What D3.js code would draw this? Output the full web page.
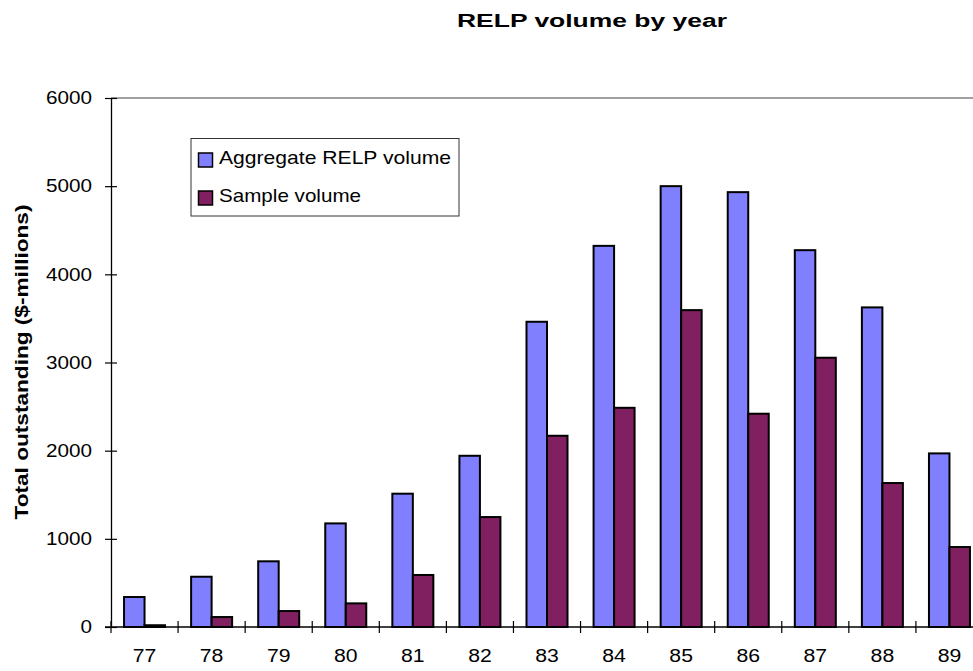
<!DOCTYPE html>
<html>
<head>
<meta charset="utf-8">
<script src="https://cdn.jsdelivr.net/npm/d3@7"></script>
<style>
  html, body { margin: 0; padding: 0; background: #fff; }
  svg { display: block; font-family: Arial, "Liberation Sans", sans-serif; }
</style>
</head>
<body>
<svg id="chart" width="973" height="671"></svg>
<script>
const categories = ["77","78","79","80","81","82","83","84","85","86","87","88","89"];
const seriesNames = ["Aggregate RELP volume", "Sample volume"];
const aggregateVolume = [340, 570, 745, 1175, 1512, 1942, 3462, 4323, 5000, 4932, 4274, 3625, 1969];
const sampleVolume = [20, 113, 181, 268, 590, 1247, 2169, 2486, 3594, 2419, 3054, 1633, 907];
const yTicks = [0, 1000, 2000, 3000, 4000, 5000, 6000];
const seriesColors = ["#8080FF", "#802060"];

(function () {
const svg = d3.select("#chart");
const pLeft = 111, pRight = 983, pTop = 98, pBottom = 627;

const x0 = d3.scaleBand().domain(categories).range([pLeft, pRight]).padding(0);
const x1 = d3.scaleBand().domain(seriesNames).range([0, x0.bandwidth()])
  .paddingInner(0).paddingOuter(0.636);
const y = d3.scaleLinear().domain([0, 6000]).range([pBottom, pTop]);

// Title
svg.append("text")
  .attr("x", 457).attr("y", 27)
  .attr("font-size", 18).attr("font-weight", "bold")
  .attr("textLength", 270).attr("lengthAdjust", "spacingAndGlyphs")
  .attr("fill", "#000")
  .text("RELP volume by year");

// Top border of plot area
svg.append("line")
  .attr("x1", pLeft).attr("x2", pRight).attr("y1", pTop).attr("y2", pTop)
  .attr("stroke", "#808080").attr("stroke-width", 1.5);

// Bars
const data = categories.map((c, i) => ({ cat: c, values: [aggregateVolume[i], sampleVolume[i]] }));
const groups = svg.append("g").selectAll("g").data(data).join("g")
  .attr("transform", d => `translate(${x0(d.cat)},0)`);
groups.selectAll("rect")
  .data(d => d.values.map((v, j) => ({ name: seriesNames[j], v, j })))
  .join("rect")
  .attr("x", d => x1(d.name))
  .attr("width", x1.bandwidth())
  .attr("y", d => y(d.v))
  .attr("height", d => y(0) - y(d.v))
  .attr("fill", d => seriesColors[d.j])
  .attr("stroke", "#000").attr("stroke-width", 2);

// Y axis
const yAxis = d3.axisLeft(y).tickValues(yTicks).tickFormat(d3.format("d"))
  .tickSize(6).tickSizeOuter(0).tickPadding(13);
const gy = svg.append("g").attr("transform", `translate(${pLeft},0)`).call(yAxis);
gy.select(".domain").attr("stroke", "#000").attr("stroke-width", 1.3);
gy.selectAll(".tick line").attr("x1", 6).attr("x2", -6).attr("stroke", "#000").attr("stroke-width", 1.2);
gy.selectAll(".tick text")
  .attr("font-size", 18).attr("fill", "#000")
  .attr("font-family", "Arial, 'Liberation Sans', sans-serif")
  .attr("textLength", d => String(d).length * 11.5)
  .attr("lengthAdjust", "spacingAndGlyphs");

// X axis
const xAxis = d3.axisBottom(x0).tickSize(0).tickSizeOuter(0).tickPadding(22);
const gx = svg.append("g").attr("transform", `translate(0,${pBottom})`).call(xAxis);
gx.select(".domain").attr("stroke", "#000").attr("stroke-width", 1.3)
  .attr("d", `M${pLeft - 6},0H${pRight}`);
gx.selectAll(".tick text")
  .attr("font-size", 18).attr("fill", "#000")
  .attr("font-family", "Arial, 'Liberation Sans', sans-serif")
  .attr("textLength", d => String(d).length * 11.8)
  .attr("lengthAdjust", "spacingAndGlyphs");
// category boundary tick marks (cross)
svg.append("g").selectAll("line").data(categories).join("line")
  .attr("x1", d => x0(d)).attr("x2", d => x0(d))
  .attr("y1", pBottom - 6).attr("y2", pBottom + 6)
  .attr("stroke", "#000").attr("stroke-width", 1.2);

// Y axis title
svg.append("text")
  .attr("transform", "translate(28,362) rotate(-90)")
  .attr("text-anchor", "middle")
  .attr("font-size", 18).attr("font-weight", "bold")
  .attr("textLength", 315).attr("lengthAdjust", "spacingAndGlyphs")
  .attr("fill", "#000")
  .text("Total outstanding ($-millions)");

// Legend
const lg = svg.append("g");
lg.append("rect")
  .attr("x", 191).attr("y", 138.5).attr("width", 268).attr("height", 77.5)
  .attr("fill", "#fff").attr("stroke", "#333").attr("stroke-width", 1);
const legendWidths = [232, 142];
seriesNames.forEach((name, i) => {
  const yy = 153 + i * 38;
  lg.append("rect")
    .attr("x", 198.5).attr("y", yy).attr("width", 14).attr("height", 14)
    .attr("fill", seriesColors[i]).attr("stroke", "#000").attr("stroke-width", 1.5);
  lg.append("text")
    .attr("x", 219).attr("y", yy + 11)
    .attr("font-size", 19).attr("fill", "#000")
    .attr("textLength", legendWidths[i]).attr("lengthAdjust", "spacingAndGlyphs")
    .text(name);
});
})();
</script>
</body>
</html>
